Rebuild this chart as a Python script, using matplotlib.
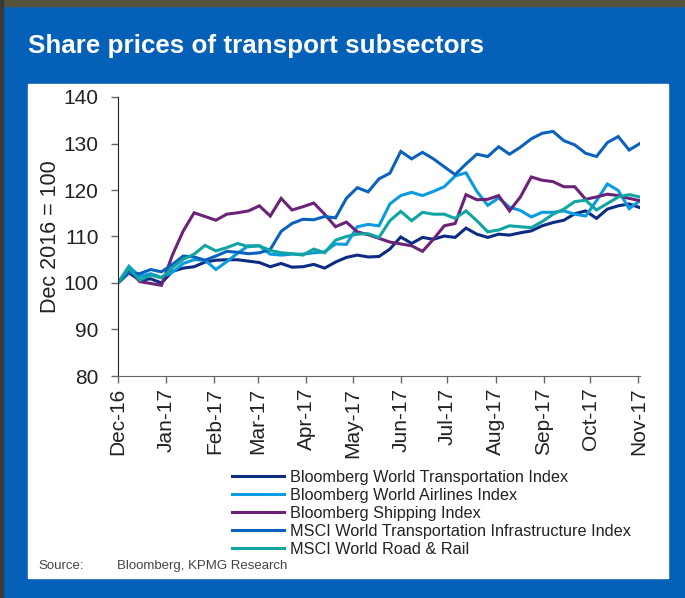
import numpy as np
import matplotlib
matplotlib.use("Agg")
import matplotlib.pyplot as plt
import matplotlib.dates as mdates
from matplotlib.patches import Rectangle

plt.rcParams['font.family'] = ['Liberation Sans', 'DejaVu Sans']

# weekly observations, Dec 2016 = 100
dates = np.arange(np.datetime64('2016-12-01'), np.datetime64('2017-11-03'), np.timedelta64(7, 'D'))

world_transport = [100, 102.2, 100.6, 100.9, 100.0, 102.5, 103.2, 103.5, 104.5, 104.9,
                   105.0, 105.0, 104.7, 104.4, 103.5, 104.2, 103.4, 103.5, 104.0, 103.2,
                   104.5, 105.5, 106.0, 105.6, 105.7, 107.3, 109.9, 108.5, 109.8, 109.4,
                   110.1, 109.8, 111.8, 110.5, 109.8, 110.5, 110.3, 110.8, 111.2, 112.3,
                   113.0, 113.5, 114.9, 115.5, 113.9, 115.9, 116.6, 117.0, 116.2]
airlines = [100, 103.6, 101.4, 102.0, 101.2, 102.3, 104.2, 105.0, 104.9, 102.9,
            104.6, 106.4, 108.0, 108.0, 106.2, 106.0, 106.2, 106.2, 106.5, 106.7,
            108.4, 108.3, 112.1, 112.6, 112.3, 117.0, 118.8, 119.5, 118.8, 119.7,
            120.7, 123.0, 123.7, 119.7, 116.7, 118.3, 116.3, 115.6, 114.2, 115.2,
            115.2, 115.5, 114.8, 114.4, 117.7, 121.3, 119.9, 116.0, 117.7]
shipping = [100, 102.9, 100.3, 99.9, 99.5, 106.0, 111.2, 115.1, 114.3, 113.5,
            114.8, 115.1, 115.5, 116.6, 114.4, 118.2, 115.7, 116.4, 117.2, 114.8,
            112.1, 113.1, 111.0, 110.4, 109.6, 108.8, 108.4, 108.0, 106.8, 109.4,
            112.3, 112.8, 119.0, 117.9, 118.0, 118.8, 115.5, 118.5, 122.8, 122.1,
            121.8, 120.7, 120.7, 118.0, 118.5, 119.1, 118.8, 118.2, 117.7]
msci_infra = [100, 102.2, 102.0, 102.9, 102.4, 104.0, 105.8, 105.6, 104.9, 105.8,
              106.8, 106.6, 106.3, 106.5, 107.2, 111.1, 112.8, 113.7, 113.6, 114.3,
              114.0, 118.2, 120.5, 119.6, 122.4, 123.6, 128.3, 126.7, 128.1, 126.7,
              125.0, 123.3, 125.6, 127.7, 127.2, 129.3, 127.7, 129.2, 131.0, 132.2,
              132.6, 130.6, 129.7, 127.9, 127.2, 130.2, 131.5, 128.6, 130.0]
road_rail = [100, 103.2, 100.6, 101.7, 101.1, 103.3, 105.1, 106.2, 108.1, 106.9,
             107.6, 108.5, 107.8, 108.0, 107.0, 106.5, 106.3, 106.0, 107.3, 106.5,
             109.2, 110.0, 110.5, 110.6, 109.8, 113.4, 115.4, 113.4, 115.2, 114.8,
             114.8, 113.9, 115.5, 113.4, 111.0, 111.4, 112.3, 112.1, 111.9, 113.2,
             114.8, 115.9, 117.5, 117.8, 115.7, 117.1, 118.5, 119.0, 118.5]

labels = ['Bloomberg World Transportation Index', 'Bloomberg World Airlines Index',
          'Bloomberg Shipping Index', 'MSCI World Transportation Infrastructure Index',
          'MSCI World Road & Rail']
colors = ['#0C2C84', '#0A9BE0', '#6B2278', '#0A62BE', '#10A5A0']

fig = plt.figure(figsize=(6.85, 5.98), dpi=100)
fig.patch.set_facecolor('#0560B8')

# dark strip along top and left edge
fig.add_artist(Rectangle((0, 1 - 6/598), 1, 6/598, transform=fig.transFigure, color='#56543c', zorder=0))
fig.add_artist(Rectangle((0, 0), 3/685, 1, transform=fig.transFigure, color='#3a3a3a', zorder=0))
# white panel
fig.add_artist(Rectangle((28/685, 1 - 578/598), 640/685, 494/598, transform=fig.transFigure,
                         color='white', zorder=0))

fig.text(28/685, 1 - 46/598, 'Share prices of transport subsectors', color='white',
         fontsize=18.7, fontweight='bold', va='center', ha='left')

ax = fig.add_axes([118/685, 1 - 376/598, 522/685, 279/598])
ax.patch.set_alpha(0)

series = [world_transport, airlines, shipping, msci_infra, road_rail]
for vals, lab, col in zip(series, labels, colors):
    ax.plot(dates, vals, color=col, lw=2.2, label=lab, solid_joinstyle='miter')

ax.set_ylim(80, 140)
ax.set_yticks(np.arange(80, 141, 10))
ax.set_xlim(np.datetime64('2016-12-01'), np.datetime64('2017-11-02'))
ax.xaxis.set_major_locator(mdates.MonthLocator())
ax.xaxis.set_major_formatter(mdates.DateFormatter('%b-%y'))
for s in ['top', 'right']:
    ax.spines[s].set_visible(False)
ax.spines['left'].set_color('#222222')
ax.spines['bottom'].set_color('#666666')
ax.tick_params(axis='both', labelsize=15, colors='#666666', labelcolor='#222222',
               length=5, width=1)
ax.tick_params(axis='y', pad=9)
plt.setp(ax.get_xticklabels(), rotation=90)
ax.set_ylabel('Dec 2016 = 100', fontsize=15.5, color='#222222', labelpad=2)

fig.legend(loc='upper left', bbox_to_anchor=(232/685, 1 - 470/598), frameon=False,
           fontsize=11.7, handlelength=3.2, handletextpad=0.35, labelspacing=0.18,
           borderpad=0, borderaxespad=0, labelcolor='#222222')

fig.text(38/685, 1 - 566/598, 'Source:', fontsize=9.5, color='#444444', va='center')
fig.text(117/685, 1 - 566/598, 'Bloomberg, KPMG Research', fontsize=9.5, color='#444444', va='center')

fig.savefig('out.png', dpi=100, facecolor=fig.get_facecolor())
